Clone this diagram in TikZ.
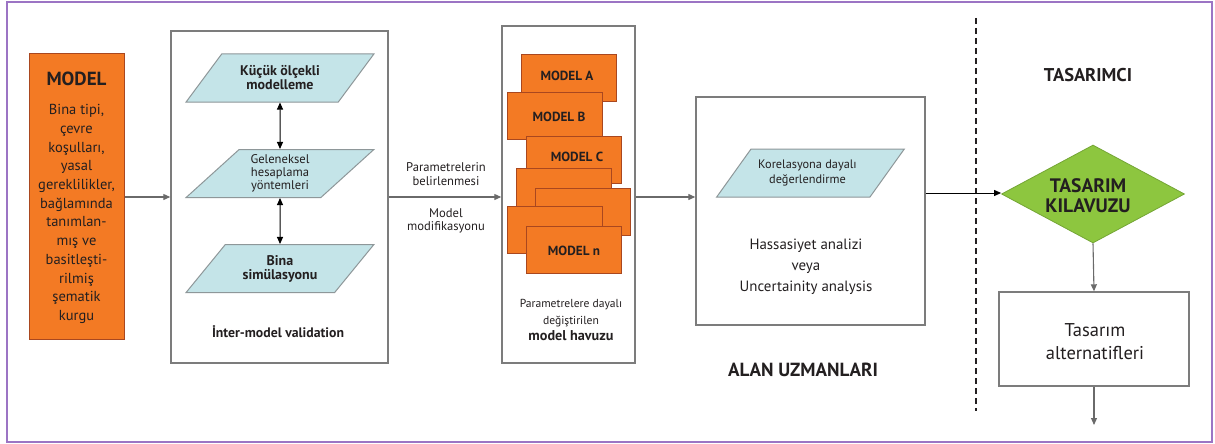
\documentclass[tikz,border=0pt]{standalone}
\usepackage{fontspec}
\setmainfont{PT Sans}
\usetikzlibrary{shapes.geometric,arrows.meta}
\definecolor{orng}{HTML}{F37A24}
\definecolor{orngedge}{HTML}{A9471F}
\definecolor{lblue}{HTML}{C4E4E8}
\definecolor{lblueedge}{HTML}{8E9799}
\definecolor{grn}{HTML}{8DC63F}
\definecolor{grnedge}{HTML}{74A535}
\definecolor{boxedge}{HTML}{7C7C7C}
\definecolor{frm}{HTML}{9C74C4}
\definecolor{txt}{HTML}{231F20}
\definecolor{arr}{HTML}{6A6A6A}
\tikzset{
  fs/.style 2 args={font=\fontsize{#1}{#2}\selectfont},
  bfs/.style 2 args={font=\bfseries\fontsize{#1}{#2}\selectfont},
  framebox/.style={draw=frm, line width=1.5pt},
  greybox/.style={draw=boxedge, line width=1.4pt, fill=white},
  orangebox/.style={draw=orngedge, line width=1pt, fill=orng},
  modelrect/.style={draw=orngedge, line width=1pt, fill=orng, minimum width=95pt, minimum height=47pt, inner sep=0pt},
  para/.style={trapezium, trapezium left angle=45, trapezium right angle=135,
    trapezium stretches=true, minimum width=188pt, minimum height=48pt,
    fill=lblue, draw=lblueedge, line width=1pt, inner sep=0pt, text=txt},
  lbl/.style={text=txt, align=center, inner sep=0pt},
  conn/.style={draw=arr, line width=1.1pt, -{Triangle[length=7pt,width=6pt]}},
  dconn/.style={draw=black, line width=1pt, {Triangle[length=7pt,width=6pt]}-{Triangle[length=7pt,width=6pt]}},
  bconn/.style={draw=black, line width=0.9pt, -{Triangle[length=7pt,width=6pt]}},
}
\begin{document}
\begin{tikzpicture}[x=1pt,y=-1pt]
\useasboundingbox (0,0) rectangle (1215,444);
\draw[framebox] (7,2) rectangle (1212,442);

% MODEL box
\node[orangebox, minimum width=95pt, minimum height=285pt, inner sep=0pt] (model) at (76.5,196.5) {};
\node[lbl, bfs={19}{22}] (modeltitle) at (76.5,79) {MODEL};
\node[lbl, fs={14.5}{18.7}] (modelbody) at (76.5,214) {Bina tipi,\\çevre\\koşulları,\\yasal\\gereklilikler,\\bağlamında\\tanımlan-\\mış ve\\basitleşti-\\rilmiş\\şematik\\kurgu};

% Inter-model box
\node[greybox, minimum width=217pt, minimum height=332pt, inner sep=0pt] (inter) at (279.5,197) {};
\node[para, bfs={14}{14}, align=center] (p1) at (280,78) {Küçük ölçekli\\modelleme};
\node[para, fs={12.6}{13.3}, align=center] (p2) at (280,173.5) {Geleneksel\\hesaplama\\yöntemleri};
\node[para, bfs={14}{14}, align=center] (p3) at (280,268.5) {Bina\\simülasyonu};
\node[lbl, bfs={13.75}{15}] (intercap) at (278,332) {İnter-model validation};
\draw[dconn] (p1.south) -- (p2.north);
\draw[dconn] (p2.south) -- (p3.north);

% Pool box
\node[greybox, minimum width=133pt, minimum height=337pt, inner sep=0pt] (pool) at (568.5,194.5) {};
\node[modelrect] (ma) at (568.5,78) {};
\node[modelrect] (mb) at (554.5,116) {};
\node[modelrect] (mc) at (573.5,159.5) {};
\node[modelrect] (md) at (563.5,191.5) {};
\node[modelrect] (me) at (583,211.5) {};
\node[modelrect] (mf) at (554.5,230) {};
\node[modelrect] (mn) at (573.5,249.5) {};
\node[lbl, bfs={13.2}{15}] (mat) at (567,76) {MODEL A};
\node[lbl, bfs={13.2}{15}] (mbt) at (559,117) {MODEL B};
\node[lbl, bfs={13.2}{15}] (mct) at (577,157) {MODEL C};
\node[lbl, bfs={13.2}{15}] (mnt) at (574,251) {MODEL n};
\node[lbl, fs={11.6}{16.5}] (poolcap) at (571,320) {Parametrelere dayalı\\değiştirilen\\\bfseries\fontsize{14.2}{16.5}\selectfont model havuzu};

% labels between
\node[lbl, fs={12.6}{13.5}] (lab1) at (446,174) {Parametrelerin\\belirlenmesi};
\node[lbl, fs={12.6}{13.5}] (lab2) at (446,221) {Model\\modifikasyonu};

% Hassasiyet box
\node[greybox, minimum width=229pt, minimum height=228pt, inner sep=0pt] (hass) at (810.5,211) {};
\node[para, fs={12.3}{15.5}, align=center] (kor) at (810.5,173) {\hspace*{-6pt}Korelasyona dayalı\\\hspace*{-6pt}değerlendirme};
\node[lbl, fs={14.9}{21}] (hasst) at (806,267) {Hassasiyet analizi\\veya\\Uncertainity analysis};
\node[lbl, bfs={19}{21}] (alan) at (803,370) {ALAN UZMANLARI};

% dashed divider
\coordinate (dtop) at (976,18);
\coordinate (dbot) at (976,411);
\draw[draw=txt, line width=1.3pt, dash pattern=on 6pt off 4pt] (dtop) -- (dbot);

% Designer side
\node[lbl, bfs={18.5}{21}] (tas) at (1088,75) {TASARIMCI};
\node[diamond, fill=grn, draw=grnedge, line width=0.8pt, minimum width=183pt, minimum height=98pt, inner sep=0pt] (kil) at (1093,194) {};
\node[lbl, bfs={19.5}{20}] (kilt) at (1088,196) {TASARIM\\KILAVUZU};
\node[greybox, minimum width=190pt, minimum height=94pt, inner sep=0pt] (alt) at (1094,339) {};
\node[lbl, fs={18.5}{23}] (altt) at (1095,341.5) {Tasarım\\alternatifleri};
\coordinate (outend) at (1094,425);

% connectors
\draw[conn] (model.east |- 0,197) -- (inter.west |- 0,197);
\draw[conn] (inter.east |- 0,197) -- (pool.west |- 0,197);
\draw[conn] (pool.east |- 0,197) -- (hass.west |- 0,197);
\draw[bconn] (hass.east |- 0,193) -- (kil.west |- 0,193);
\draw[conn] (kil.south) -- (alt.north);
\draw[conn] (alt.south) -- (outend);
\end{tikzpicture}
\end{document}
